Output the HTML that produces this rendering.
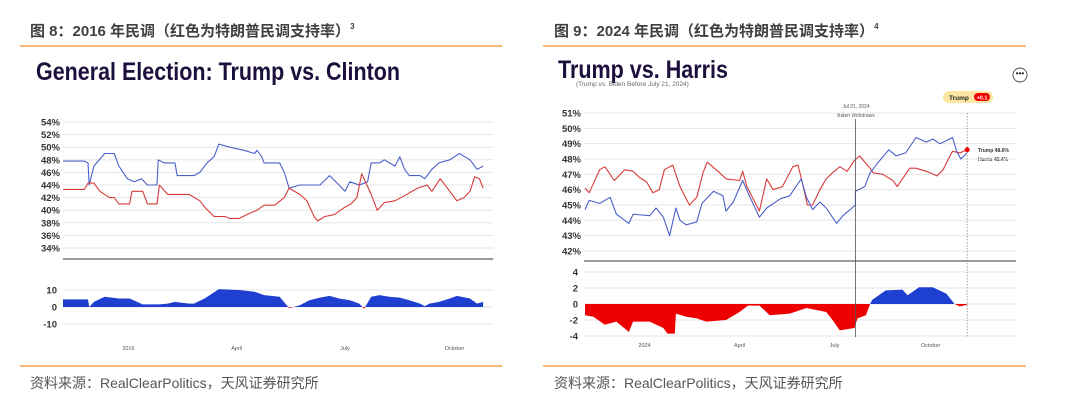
<!DOCTYPE html>
<html><head><meta charset="utf-8"><style>
body{margin:0;background:#fff;width:1080px;height:406px;overflow:hidden;font-family:"Liberation Sans","Noto Sans CJK SC",sans-serif}
svg{display:block}
.hd{font-size:15px;font-weight:bold;fill:#404040}
.src{font-size:14px;fill:#555}
.ct{font-family:"Liberation Sans",sans-serif;font-weight:bold;fill:#1c0f3c;font-size:25px}
.yl{font-size:9.5px;font-weight:bold;fill:#333}
.xl{font-size:5.5px;fill:#555}
</style></head><body>
<svg id="s" width="1080" height="406" viewBox="0 0 1080 406">
<text class="hd" x="30" y="36">图 8：2016 年民调（红色为特朗普民调支持率）<tspan font-size="8" dy="-7">3</tspan></text>
<line x1="20" y1="46" x2="502" y2="46" stroke="#f5a04a" stroke-width="1.5"/>
<text class="ct" x="36" y="80" textLength="364" lengthAdjust="spacingAndGlyphs">General Election: Trump vs. Clinton</text>
<line x1="20" y1="366" x2="502" y2="366" stroke="#f5a04a" stroke-width="1.5"/>
<text class="src" x="30" y="388">资料来源：RealClearPolitics，天风证券研究所</text>

<text class="hd" x="554" y="36">图 9：2024 年民调（红色为特朗普民调支持率）<tspan font-size="8" dy="-7">4</tspan></text>
<line x1="543" y1="46" x2="1026" y2="46" stroke="#f5a04a" stroke-width="1.5"/>
<text class="ct" x="558" y="78" textLength="170" lengthAdjust="spacingAndGlyphs">Trump vs. Harris</text>
<text x="576" y="86" font-size="6.5" fill="#666">(Trump vs. Biden Before July 21, 2024)</text>
<g><circle cx="1020" cy="75" r="7" fill="#fff" stroke="#555" stroke-width="1"/><text x="1020" y="76" font-size="8" font-weight="bold" text-anchor="middle" fill="#333">•••</text></g>
<g><rect x="943" y="91" width="50" height="12" rx="6" fill="#fde6a3"/><text x="949" y="100" font-size="6.5" font-weight="bold" fill="#222">Trump</text><rect x="974" y="93" width="16" height="8" rx="4" fill="#e00"/><text x="982" y="99.5" font-size="5.5" font-weight="bold" fill="#fff" text-anchor="middle">+0.1</text></g>
<text x="856" y="108" font-size="5" fill="#555" text-anchor="middle">Jul 21, 2024</text>
<text x="856" y="117" font-size="5" fill="#555" text-anchor="middle">Biden Withdraws</text>
<text x="978" y="152" font-size="5" font-weight="bold" fill="#333">Trump 48.6%</text>
<text x="978" y="161" font-size="5" font-weight="bold" fill="#333">Harris 48.4%</text>
<line x1="543" y1="366" x2="1026" y2="366" stroke="#f5a04a" stroke-width="1.5"/>
<text class="src" x="554" y="388">资料来源：RealClearPolitics，天风证券研究所</text>
<g id="g"></g>
</svg>
<script>
// ---- 2016 data (days since Jan 1 2016) ----
const cDays=[-55,-37,-34,-33,-29,-20,-12,-8,-1,5,11,16,24,25,30,39,41,55,60,66,72,76,85,97,106,108,112,114,127,131,135,144,161,169,177,182,186,194,201,204,211,215,224,228,232,236,245,249,255,261,270,278,287,293,298];
const clinton=[47.8,47.8,47.5,44,47,49,49,47,45,44.5,45,44,44,48,47.5,47.5,45.5,45.5,46,47.5,48.5,50.5,50,49.5,49,49.5,48.5,47.5,47.5,46,43.5,44,44,45.5,44,43,44.5,44,44.5,47.5,47.5,48,47,48.5,46.5,45.5,45.5,45,46.5,47.5,48,49,48,46.5,47];
const tDays16=[-55,-37,-34,-29,-24,-16,-12,-8,1,3,12,16,24,26,33,51,60,64,72,81,85,93,102,108,114,123,131,135,144,150,156,159,165,173,182,187,192,196,204,209,215,224,232,243,251,255,262,270,276,282,287,291,295,298];
const trump16=[43.3,43.3,44.3,44.3,43,42,42,41,41,43,43,41,41,44,42.5,42.5,41.5,40.5,39,39,38.7,38.7,39.5,40,40.8,40.8,42,43.5,42.5,41.5,39,38.3,39,39.3,40.5,41,42,45.8,42.5,40,41.2,41.5,42.3,43.5,44,43,45,43,41.5,42,43,45.3,45,43.5];
const sDays16=[-55,-34,-33,-29,-20,-8,1,12,26,33,39,51,55,64,76,93,106,114,127,133,135,139,144,152,161,169,177,186,194,198,204,211,219,228,236,245,249,253,261,270,276,287,293,298];
const spread16=[4.5,4.5,0,3,6,5,5,1.5,1.5,2,3,2,2,5,10.5,10,9,7,6,1,-0.5,0,1,4,5.5,6.5,5,4,2,-1,6,7,6,5.5,4,2,0.5,2,3,5,6.5,5,2,3];
const yTicks16=[54,52,50,48,46,44,42,40,38,36,34];
const sTicks16=[10,0,-10];
const xLabels16=["2016","April","July","October"];
const xLabelDays16=[0,91,182,274];
// ---- 2024 data (days since Jan 1 2024) ----
const tDays24=[-57,-53,-43,-38,-29,-19,-11,-5,2,8,14,19,27,34,43,50,56,60,72,78,91,94,98,110,117,123,132,142,147,151,156,161,168,174,180,187,194,201,206,211,216,219,228,238,242,247,254,260,270,280,286,291,295,302,309];
const trump24=[46.1,45.8,47.3,47.5,46.6,47.3,47.2,46.8,46.5,45.8,46,47.3,47.6,46.2,45.0,45.5,47.1,47.8,47.1,46.7,46.6,47.2,46.2,44.6,46.7,46,46.2,47.5,47.6,46.5,45.0,45.0,46,46.7,47.1,47.5,47.2,47.9,48.2,47.8,47.4,47.1,47,46.6,46.2,46.7,47.4,47.4,47.2,46.9,47.3,48,48.5,48.4,48.6];
const dDays24=[-57,-53,-43,-33,-27,-15,-11,5,11,18,24,30,34,40,50,55,66,75,78,85,94,101,110,117,130,139,150,155,161,168,174,184,190,197,202,202,211,216,224,234,241,250,260,270,276,283,295,299,303,309];
const dem24=[44.7,45.3,45.1,45.5,44.4,43.8,44.4,44.3,44.8,44.2,43,44.8,44,43.7,43.9,45.1,45.9,45.6,44.6,45.2,46.6,45.5,44.2,44.8,45.4,45.6,46.7,45.5,44.7,45.2,44.8,43.8,44.3,44.7,45,45.9,46.2,47.1,47.8,48.6,48.2,48.4,49.4,49.1,49.3,49,49.4,48.5,48,48.4];
const sDays24=[-57,-49,-38,-27,-15,-11,5,18,22,29,30,40,50,59,78,91,99,110,120,139,155,174,180,187,201,204,212,216,218,231,247,252,263,276,289,297,302,309];
const spread24=[-1.4,-1.6,-2.6,-2.2,-3.5,-2.2,-2.2,-3,-3.7,-3.7,-1.2,-1.6,-1.8,-2.2,-2,-1,-0.2,-0.2,-1.4,-1.2,-0.5,-1,-2,-3.3,-3,-1.8,-1.4,0,0.5,1.7,1.8,1.1,2.1,2.1,1.3,0,-0.3,-0.1];
const yTicks24=[51,50,49,48,47,46,45,44,43,42];
const sTicks24=[4,2,0,-2,-4];
const xLabels24=["2024","April","July","October"];
const xLabelDays24=[0,91,182,274];
const eventDay=202, lastDay=309;

const NS="http://www.w3.org/2000/svg", G=document.getElementById('g');
function mk(t,a,p){const e=document.createElementNS(NS,t);for(const k in a)e.setAttribute(k,a[k]);(p||G).appendChild(e);return e;}
function pts(xs,ys,X,Y){return xs.map((d,i)=>X(d).toFixed(1)+','+Y(ys[i]).toFixed(1)).join(' ');}

function panel(o){
  const X=d=>o.x0+(d-o.d0)*o.pxd;
  const Y=v=>o.yTop+(o.yMax-v)*o.pyu;
  const S=v=>o.s0+(-v)*o.psu;
  o.yTicks.forEach(v=>{
    const l=mk('line',{x1:o.gx0,x2:o.gx1,y1:Y(v),y2:Y(v),stroke:'#e6e6e6','stroke-width':1});
    
    const t=mk('text',{x:o.gx0-3,y:Y(v)+3.5,'text-anchor':'end',class:'yl'});t.textContent=v+'%';
    
  });
  o.sTicks.forEach(v=>{
    const l=mk('line',{x1:o.gx0,x2:o.gx1,y1:S(v),y2:S(v),stroke:'#e6e6e6','stroke-width':1});
    
    const t=mk('text',{x:o.gx0-6,y:S(v)+3.5,'text-anchor':'end',class:'yl'});t.textContent=v;
    
  });
  const sep=mk('line',{x1:o.gx0,x2:o.gx1,y1:o.sep,y2:o.sep,stroke:'#999','stroke-width':2});
  
  o.xl.forEach((s,i)=>{const t=mk('text',{x:X(o.xd[i]),y:o.xly,'text-anchor':'middle',class:'xl'});t.textContent=s;
    });
  // spread area
  const id=o.id;
  const cp=mk('clipPath',{id:id+'p'});mk('rect',{x:0,y:0,width:1080,height:o.s0},cp);
  const cn=mk('clipPath',{id:id+'n'});mk('rect',{x:0,y:o.s0,width:1080,height:200},cn);
  const xs=o.sd, first=X(xs[0]), last=X(xs[xs.length-1]);
  const d='M'+first+','+o.s0+' L'+pts(xs,o.sv,X,S)+' L'+last+','+o.s0+'Z';
  const a1=mk('path',{d:d,fill:o.posCol,'clip-path':'url(#'+id+'p)'});
  
  const a2=mk('path',{d:d,fill:o.negCol,'clip-path':'url(#'+id+'n)'});
  
  // series
  o.series.forEach(s=>{const p=mk('polyline',{points:pts(s.d,s.v,X,Y),fill:'none',stroke:s.c,'stroke-width':1.1,'stroke-linejoin':'round'});
    });
  return {X,Y,S};
}

panel({id:'a',x0:63,d0:-55,pxd:1.19,yTop:122,yMax:54,pyu:6.3,s0:307,psu:1.7,gx0:63,gx1:493,sep:259,xly:350,
  yTicks:yTicks16,sTicks:sTicks16,xl:xLabels16,xd:xLabelDays16,sd:sDays16,sv:spread16,posCol:'#1e3fd0',negCol:'#e00',
  series:[{d:cDays,v:clinton,c:'#4a5fc8',n:'clinton-line'},{d:tDays16,v:trump16,c:'#d63a3a',n:'trump-2016-line'}]});

const B=panel({id:'b',x0:584,d0:-58,pxd:1.044,yTop:113,yMax:51,pyu:15.33,s0:304,psu:8,gx0:584,gx1:1016,sep:261,xly:347,
  yTicks:yTicks24,sTicks:sTicks24,xl:xLabels24,xd:xLabelDays24,sd:sDays24,sv:spread24,posCol:'#1e3fd0',negCol:'#e00',
  series:[{d:tDays24,v:trump24,c:'#d63a3a',n:'trump-2024-line'},{d:dDays24,v:dem24,c:'#4a5fc8',n:'biden-harris-line'}]});
const ev=mk('line',{x1:B.X(eventDay),x2:B.X(eventDay),y1:119,y2:337,stroke:'#555','stroke-width':0.8});

const dl=mk('line',{x1:B.X(lastDay),x2:B.X(lastDay),y1:113,y2:337,stroke:'#888','stroke-width':0.8,'stroke-dasharray':'1.5,1.5'});

const dot=mk('circle',{cx:B.X(lastDay),cy:B.Y(trump24[trump24.length-1]),r:2.5,fill:'#e00'});

</script>
</body></html>
